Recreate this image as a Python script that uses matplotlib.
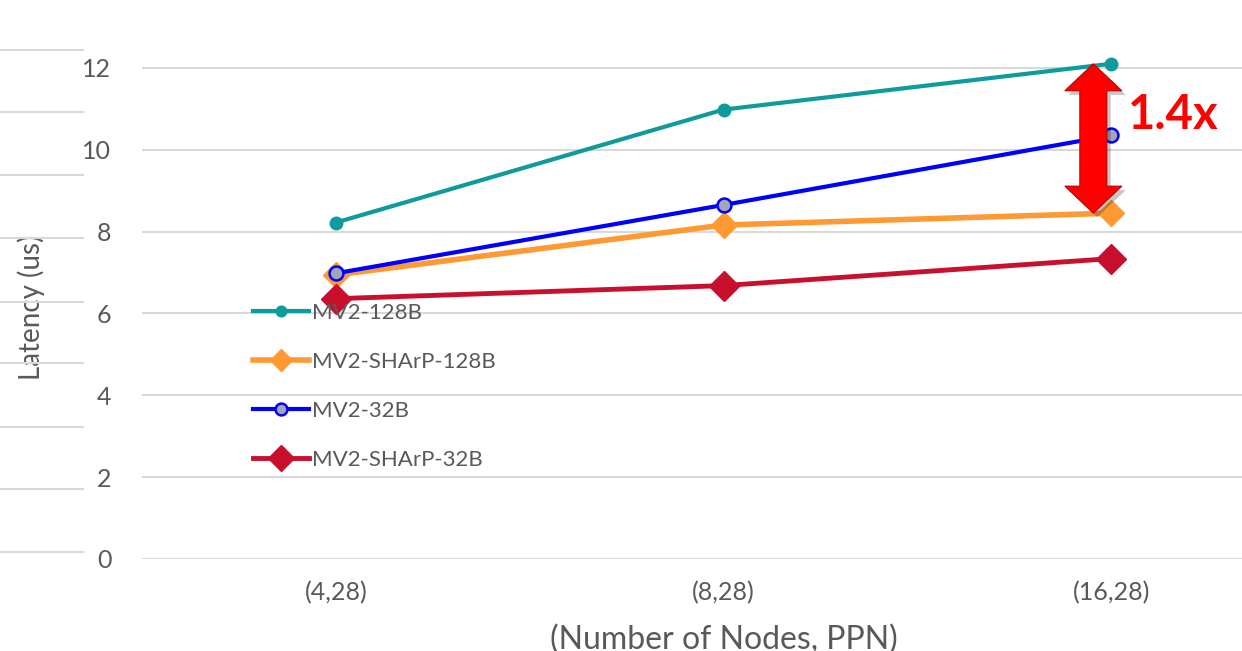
import matplotlib
matplotlib.use("Agg")
import matplotlib.pyplot as plt
from matplotlib.lines import Line2D
from matplotlib.patches import Polygon

plt.rcParams['font.family'] = ['Lato', 'DejaVu Sans']

# data
categories = ['(4,28)', '(8,28)', '(16,28)']
mv2_128 = [8.22, 10.98, 12.1]
sharp_128 = [6.94, 8.16, 8.45]
mv2_32 = [6.98, 8.65, 10.35]
sharp_32 = [6.36, 6.68, 7.34]
speedup_label = '1.4x'

grey = '#595959'
grid = '#d9d9d9'

fig = plt.figure(figsize=(12.42, 6.51), dpi=100)
# plot area runs past the right and top figure edges, like the cropped original
ax = fig.add_axes([142 / 1242, 92 / 651, 1163 / 1242, 573 / 651])

x = range(len(categories))
ax.plot(x, mv2_128, color='#0f9b9b', lw=3, marker='o', ms=9,
        label='MV2-128B', zorder=3)
ax.plot(x, sharp_128, color='#ff9933', lw=4, marker='D', ms=13,
        label='MV2-SHArP-128B', zorder=3)
ax.plot(x, mv2_32, color='#0000ff', lw=3, marker='o', ms=10,
        markerfacecolor='#a5a5b8', markeredgecolor='#0000ff', mew=1.8,
        label='MV2-32B', zorder=4)
ax.plot(x, sharp_32, color='#c8102e', lw=3.5, marker='D', ms=15,
        label='MV2-SHArP-32B', zorder=5)

ax.set_xlim(-0.5, len(categories) - 0.5)
ax.set_ylim(0, 14)
ax.set_yticks(range(0, 13, 2))
ax.set_xticks(list(x))
ax.set_xticklabels(categories)
ax.yaxis.grid(True, color=grid, lw=1.5)
ax.set_axisbelow(True)
for s in ax.spines.values():
    s.set_visible(False)
ax.tick_params(axis='y', length=0, pad=22, labelsize=18, labelcolor=grey)
ax.tick_params(axis='x', length=0, pad=16, labelsize=18, labelcolor=grey)

ax.set_ylabel('Latency (us)', fontsize=20, color=grey)
ax.yaxis.set_label_coords(-0.0834, 0.439)
ax.set_xlabel('(Number of Nodes, PPN)', fontsize=23, color=grey)
ax.xaxis.set_label_coords(0.5, -0.115)

leg = ax.legend(loc='upper left', bbox_to_anchor=(253 / 1242, 348 / 651),
                bbox_transform=fig.transFigure, frameon=False, fontsize=16,
                handlelength=2.5, handletextpad=0.15, labelspacing=1.3,
                borderpad=0, borderaxespad=0, markerscale=0.85)
for t in leg.get_texts():
    t.set_color(grey)

# double-headed red arrow between MV2-128B and MV2-SHArP-128B at (16,28)
cx = 1.954
top, bot = mv2_128[2], sharp_128[2]
head = 0.66
hw, bw = 0.0735, 0.0348
pts = [(cx, top), (cx + hw, top - head), (cx + bw, top - head),
       (cx + bw, bot + head), (cx + hw, bot + head), (cx, bot),
       (cx - hw, bot + head), (cx - bw, bot + head), (cx - bw, top - head),
       (cx - hw, top - head)]
shadow = [(px + 0.01, py - 0.1) for px, py in pts]
ax.add_patch(Polygon(shadow, closed=True, color='black', alpha=0.22, lw=0, zorder=6))
ax.add_patch(Polygon(pts, closed=True, facecolor='#ff0000', edgecolor='#c00000',
                     lw=0.8, zorder=7))
ax.text(2.044, 10.85, speedup_label, color='#ff0000', fontsize=34,
        fontweight='bold', va='center', ha='left', zorder=8)

# stray gridline stubs at the far left of the original slide
for yy in [50, 112, 175, 238, 302, 363, 427, 489, 552]:
    fig.add_artist(Line2D([0, 83 / 1242], [1 - yy / 651] * 2, color=grid, lw=1.5))

fig.savefig('out.png', dpi=100)
